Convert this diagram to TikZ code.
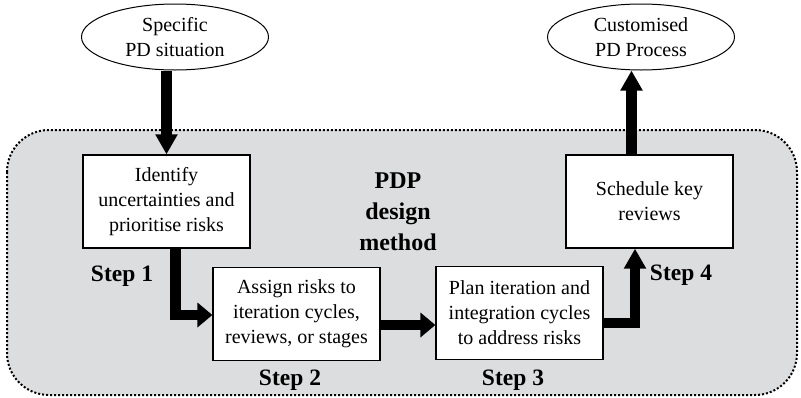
\documentclass[tikz,border=0pt]{standalone}
\usepackage{fontspec}
\setmainfont{Liberation Serif}
\usetikzlibrary{arrows.meta,shapes.geometric}
\definecolor{regiongray}{RGB}{220,221,223}
\begin{document}
\begin{tikzpicture}[x=1pt,y=-1pt,
  txt/.style={font=\fontsize{20}{25}\selectfont, align=center},
  stepbox/.style={txt, draw, line width=1.2pt, fill=white, minimum width=167pt, minimum height=93pt, inner sep=0pt},
  terminal/.style={txt, ellipse, draw, line width=1pt, fill=white, minimum width=187pt, minimum height=66pt, inner sep=0pt},
  steplabel/.style={font=\fontsize{23.5}{28}\selectfont\bfseries},
  flow/.style={line width=10.5pt, miter limit=10, -{Triangle[width=21pt,length=20pt]}},
  sideflow/.style={flow, -{Triangle[width=24pt,length=15pt]}}
]
\useasboundingbox (0,0) rectangle (801,397);
% method region
\draw[fill=regiongray, dotted, line width=2pt, rounded corners=42pt] (7,130) rectangle (797,395);

% terminals
\node[terminal] (situation) at (175,37) {Specific\\PD situation};
\node[terminal] (process) at (641,37) {Customised\\PD Process};

% steps
\node[stepbox] (s1) at (166.5,201.5) {Identify\\uncertainties and\\prioritise risks};
\node[stepbox] (s2) at (296.5,314) {Assign risks to\\iteration cycles,\\reviews, or stages};
\node[stepbox] (s3) at (519.5,313) {Plan iteration and\\integration cycles\\to address risks};
\node[stepbox] (s4) at (649.5,201.5) {Schedule key\\reviews};

% titles
\node[align=center, font=\fontsize{24}{31}\selectfont\bfseries] (title) at (398,212) {PDP\\design\\method};
\node[steplabel] (l1) at (122,276) {Step 1};
\node[steplabel] (l2) at (290,380) {Step 2};
\node[steplabel] (l3) at (513,380) {Step 3};
\node[steplabel] (l4) at (681,275) {Step 4};

% flow arrows
\coordinate (c1) at (175.5,315);
\coordinate (c3) at (635,323);
\draw[flow] (situation.south -| 166.5,0) -- (s1.north -| 166.5,0);
\draw[sideflow] (s1.south -| c1) -- (c1) -- (s2.west |- c1);
\draw[sideflow] (s2.east |- 0,325) -- (s3.west |- 0,325);
\draw[flow] (s3.east |- c3) -- (c3) -- (s4.south -| c3);
\draw[flow] (s4.north -| 631.5,0) -- (process.south -| 631.5,0);
\end{tikzpicture}
\end{document}
